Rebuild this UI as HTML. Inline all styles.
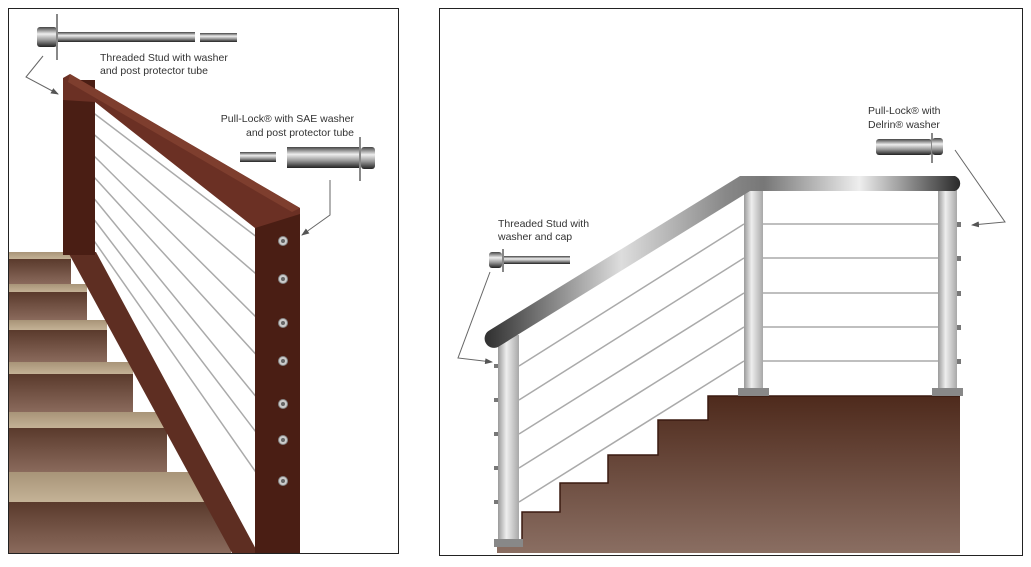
<!DOCTYPE html>
<html><head><meta charset="utf-8"><style>
html,body{margin:0;padding:0;background:#fff}
svg{display:block}
text{font-family:"Liberation Sans",sans-serif;font-size:10.5px;fill:#333}
</style></head><body>
<svg width="1031" height="567" viewBox="0 0 1031 567" xmlns="http://www.w3.org/2000/svg">
<defs>
<linearGradient id="riser" x1="0" y1="0" x2="0" y2="1"><stop offset="0" stop-color="#5a3a2c"/><stop offset="1" stop-color="#8a6a5c"/></linearGradient>
<linearGradient id="tread" x1="0" y1="0" x2="0" y2="1"><stop offset="0" stop-color="#a89478"/><stop offset="1" stop-color="#c4b296"/></linearGradient>
<linearGradient id="block" x1="0" y1="0" x2="0" y2="1"><stop offset="0" stop-color="#4e2a1c"/><stop offset="1" stop-color="#8a6e62"/></linearGradient>
<linearGradient id="steel" gradientUnits="userSpaceOnUse" x1="488" y1="0" x2="964" y2="0">
<stop offset="0" stop-color="#333"/><stop offset="0.28" stop-color="#ddd"/><stop offset="0.5" stop-color="#888"/><stop offset="0.58" stop-color="#777"/><stop offset="0.78" stop-color="#eee"/><stop offset="1" stop-color="#222"/></linearGradient>
<linearGradient id="post" x1="0" y1="0" x2="1" y2="0"><stop offset="0" stop-color="#9a9a9a"/><stop offset="0.4" stop-color="#eeeeee"/><stop offset="1" stop-color="#a8a8a8"/></linearGradient>
<linearGradient id="hw" x1="0" y1="0" x2="0" y2="1"><stop offset="0" stop-color="#444"/><stop offset="0.35" stop-color="#eee"/><stop offset="0.65" stop-color="#999"/><stop offset="1" stop-color="#222"/></linearGradient>
<marker id="ah" markerWidth="8" markerHeight="6" refX="7" refY="3" orient="auto" markerUnits="userSpaceOnUse"><path d="M0,0 L8,3 L0,6 Z" fill="#555"/></marker>
</defs>
<rect x="8.5" y="8.5" width="390" height="545" fill="#fff" stroke="#222"/>
<rect x="439.5" y="8.5" width="583" height="547" fill="#fff" stroke="#222"/>

<g stroke="#aaa" stroke-width="1.5">
<line x1="83" y1="105" x2="262" y2="241"/>
<line x1="83" y1="125" x2="262" y2="279"/>
<line x1="83" y1="145" x2="262" y2="323"/>
<line x1="83" y1="165" x2="262" y2="361"/>
<line x1="83" y1="185" x2="262" y2="404"/>
<line x1="83" y1="205" x2="262" y2="440"/>
<line x1="83" y1="225" x2="262" y2="481"/>
</g>
<rect x="9" y="252" width="62" height="7" fill="url(#tread)"/>
<rect x="9" y="259" width="62" height="25" fill="url(#riser)"/>
<rect x="9" y="284" width="78" height="8" fill="url(#tread)"/>
<rect x="9" y="292" width="78" height="28" fill="url(#riser)"/>
<rect x="9" y="320" width="98" height="10" fill="url(#tread)"/>
<rect x="9" y="330" width="98" height="32" fill="url(#riser)"/>
<rect x="9" y="362" width="124" height="12" fill="url(#tread)"/>
<rect x="9" y="374" width="124" height="38" fill="url(#riser)"/>
<rect x="9" y="412" width="158" height="16" fill="url(#tread)"/>
<rect x="9" y="428" width="158" height="44" fill="url(#riser)"/>
<rect x="9" y="472" width="205" height="30" fill="url(#tread)"/>
<rect x="9" y="502" width="222" height="51" fill="url(#riser)"/>
<polygon points="68,252 96,252 258,553 232,553" fill="#5e2e22"/>
<rect x="63" y="80" width="32" height="175" fill="#4a1e14"/>
<rect x="255" y="212" width="45" height="341" fill="#4a1e14"/>
<polygon points="63,78 70,74 300,208 300,214 255,228 95,102 95,102 63,100" fill="#6b3024"/>
<polygon points="70,74 300,208 292,212 68,82" fill="#7e3e2e"/>
<g fill="#ccc" stroke="#888" stroke-width="1">
<circle cx="283" cy="241" r="4.5"/><circle cx="283" cy="279" r="4.5"/><circle cx="283" cy="323" r="4.5"/><circle cx="283" cy="361" r="4.5"/><circle cx="283" cy="404" r="4.5"/><circle cx="283" cy="440" r="4.5"/><circle cx="283" cy="481" r="4.5"/>
</g>
<g fill="#666"><circle cx="283" cy="241" r="2"/><circle cx="283" cy="279" r="2"/><circle cx="283" cy="323" r="2"/><circle cx="283" cy="361" r="2"/><circle cx="283" cy="404" r="2"/><circle cx="283" cy="440" r="2"/><circle cx="283" cy="481" r="2"/></g>
<rect x="37" y="27" width="20" height="20" rx="3" fill="url(#hw)"/>
<rect x="56" y="14" width="2" height="46" fill="#888"/>
<rect x="58" y="32" width="137" height="10" fill="url(#hw)"/>
<rect x="200" y="33" width="37" height="9" fill="url(#hw)"/>
<text x="100" y="61">Threaded Stud with washer</text>
<text x="100" y="74">and post protector tube</text>
<text x="354" y="122" text-anchor="end">Pull-Lock® with SAE washer</text>
<text x="354" y="136" text-anchor="end">and post protector tube</text>
<rect x="240" y="152" width="36" height="10" fill="url(#hw)"/>
<rect x="287" y="147" width="72" height="21" fill="url(#hw)"/>
<rect x="359" y="137" width="2" height="44" fill="#888"/>
<rect x="361" y="147" width="14" height="22" rx="3" fill="url(#hw)"/>
<g stroke="#666" fill="none" stroke-width="1">
<polyline points="43,56 26,77 58,94" marker-end="url(#ah)"/>
<polyline points="330,180 330,215 302,235" marker-end="url(#ah)"/>
</g>

<polygon points="708,396 960,396 960,553 497,553 497,540 522,540 522,512 560,512 560,483 608,483 608,455 658,455 658,420 708,420" fill="url(#block)"/>
<polyline points="497,540 522,540 522,512 560,512 560,483 608,483 608,455 658,455 658,420 708,420 708,396 960,396" fill="none" stroke="#3a1a10" stroke-width="1.5"/>
<g stroke="#aaa" stroke-width="1.5">
<line x1="519" y1="366" x2="744" y2="224"/>
<line x1="519" y1="400" x2="744" y2="258"/>
<line x1="519" y1="434" x2="744" y2="293"/>
<line x1="519" y1="468" x2="744" y2="327"/>
<line x1="519" y1="502" x2="744" y2="361"/>
<line x1="744" y1="224" x2="958" y2="224"/>
<line x1="744" y1="258" x2="958" y2="258"/>
<line x1="744" y1="293" x2="958" y2="293"/>
<line x1="744" y1="327" x2="958" y2="327"/>
<line x1="744" y1="361" x2="958" y2="361"/>
</g>
<rect x="498" y="335" width="21" height="210" fill="url(#post)"/>
<rect x="744" y="186" width="19" height="204" fill="url(#post)"/>
<rect x="938" y="186" width="19" height="204" fill="url(#post)"/>
<rect x="494" y="539" width="29" height="8" fill="#888"/>
<rect x="738" y="388" width="31" height="8" fill="#888"/>
<rect x="932" y="388" width="31" height="8" fill="#888"/>
<g fill="#777">
<rect x="494" y="364" width="4" height="4"/><rect x="494" y="398" width="4" height="4"/><rect x="494" y="432" width="4" height="4"/><rect x="494" y="466" width="4" height="4"/><rect x="494" y="500" width="4" height="4"/>
<rect x="957" y="222" width="4" height="5"/><rect x="957" y="256" width="4" height="5"/><rect x="957" y="291" width="4" height="5"/><rect x="957" y="325" width="4" height="5"/><rect x="957" y="359" width="4" height="5"/>
</g>
<path d="M490,330 L740,176 L955,176 A8,8 0 0 1 955,191 L750,191 L498,347 A9,9 0 0 1 490,330 Z" fill="url(#steel)"/>
<text x="868" y="114">Pull-Lock® with</text>
<text x="868" y="128">Delrin® washer</text>
<rect x="876" y="139" width="56" height="16" rx="3" fill="url(#hw)"/>
<rect x="931" y="133" width="2" height="30" fill="#888"/>
<rect x="932" y="138" width="11" height="17" rx="3" fill="url(#hw)"/>
<text x="498" y="227">Threaded Stud with</text>
<text x="498" y="240">washer and cap</text>
<rect x="489" y="252" width="13" height="16" rx="3" fill="url(#hw)"/>
<rect x="502" y="249" width="2" height="23" fill="#888"/>
<rect x="504" y="256" width="66" height="8" fill="url(#hw)"/>
<g stroke="#666" fill="none" stroke-width="1">
<polyline points="490,272 458,358 492,362" marker-end="url(#ah)"/>
<polyline points="955,150 1005,222 972,225" marker-end="url(#ah)"/>
</g>
</svg>
</body></html>
